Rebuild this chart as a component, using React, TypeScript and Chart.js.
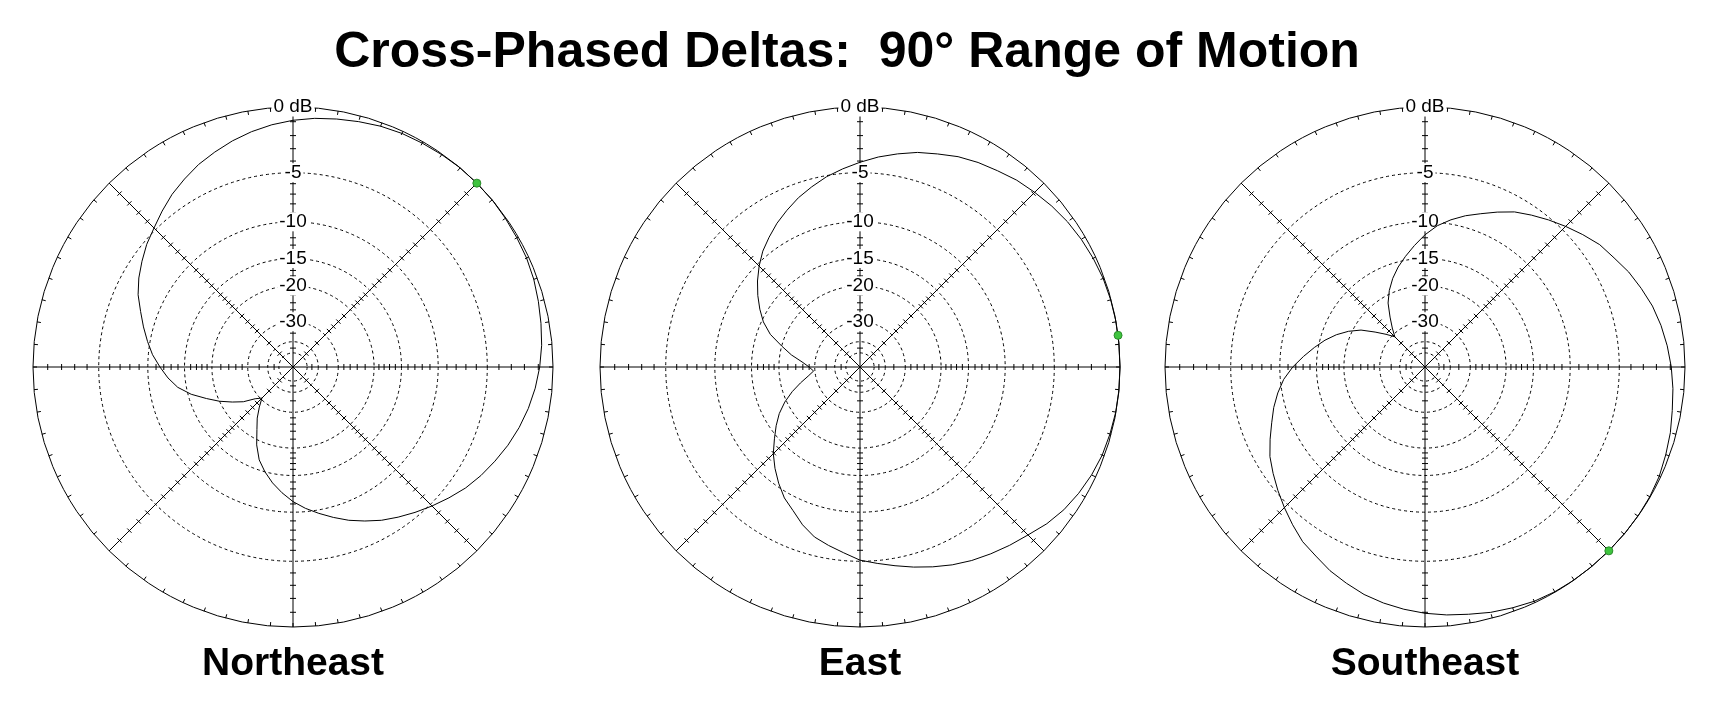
import React, { useEffect, useRef } from 'react';
import { Chart, registerables } from 'chart.js';

Chart.register(...registerables);

const FONT = "'Liberation Sans', Arial, Helvetica, sans-serif";

const chartTitle = 'Cross-Phased Deltas:  90° Range of Motion';

// Compass bearings (degrees clockwise from north) of the pattern samples
const bearings = [
  0, 5, 10, 15, 20, 25, 30, 35, 40, 45, 50, 55, 60, 65, 70, 75, 80, 85,
  90, 95, 100, 105, 110, 115, 120, 125, 130, 135, 140, 145, 150, 155, 160, 165, 170, 175,
  180, 185, 190, 195, 200, 205, 210, 215, 220, 225, 230, 235, 240, 245, 250, 255, 260, 265,
  270, 275, 280, 285, 290, 295, 300, 305, 310, 315, 320, 325, 330, 335, 340, 345, 350, 355,
];

// Ring values (dB) and their labels
const ringDb = [-50, -40, -30, -20, -15, -10, -5, 0];
const ringLabels = ['', '', '-30', '-20', '-15', '-10', '-5', '0 dB'];
// Small tick marks along the axis rays (dB)
const axisTickDb = [-1, -2, -3, -4, -6, -7, -8, -9, -11, -12, -13, -14, -16, -17, -18, -19, -22, -24, -26, -28, -35, -45];

// Relative field strength, dB, at each bearing
const northeastDb = [
  -0.9, -0.7, -0.55, -0.4, -0.25, -0.15, -0.1, -0.05, 0, 0, 0, -0.05, -0.1, -0.15, -0.25, -0.4, -0.55, -0.7,
  -0.9, -1.15, -1.45, -1.8, -2.2, -2.65, -3.1, -3.6, -4.2, -4.8, -5.4, -6.0, -6.6, -7.3, -8.0, -8.8, -9.6, -10.4,
  -11.3, -12.4, -13.6, -15.0, -16.6, -19.0, -22.0, -24.5, -27.5, -30.5, -28.5, -25.0, -22.5, -20.0, -17.8, -15.5, -13.7, -12.5,
  -11.5, -10.5, -9.7, -8.9, -8.1, -7.2, -6.5, -5.9, -5.3, -4.8, -4.2, -3.6, -3.1, -2.6, -2.2, -1.8, -1.45, -1.15,
];
const eastDb = [
  -4.1, -3.6, -3.15, -2.7, -2.35, -1.95, -1.65, -1.4, -1.1, -0.88, -0.65, -0.45, -0.3, -0.18, -0.08, -0.03, 0, 0,
  0, 0, -0.02, -0.08, -0.15, -0.3, -0.5, -0.75, -1.1, -1.55, -1.9, -2.25, -2.6, -3.0, -3.45, -3.9, -4.35, -4.75,
  -5.1, -5.7, -6.2, -6.7, -7.5, -8.5, -9.3, -10.4, -11.6, -12.9, -14.5, -16.0, -17.6, -19.6, -22.0, -24.7, -27.4, -29.5,
  -28.0, -25.7, -22.6, -20.0, -17.2, -15.3, -13.9, -12.6, -11.4, -10.3, -9.3, -8.5, -7.7, -7.0, -6.3, -5.7, -5.1, -4.6,
];
const southeastDb = [
  -11.6, -10.4, -9.5, -8.7, -8.0, -7.2, -6.4, -5.8, -5.2, -4.6, -4.0, -3.4, -3.0, -2.5, -2.1, -1.7, -1.4, -1.15,
  -0.93, -0.75, -0.6, -0.4, -0.25, -0.1, -0.03, 0, 0, 0, 0, 0, -0.03, -0.1, -0.25, -0.4, -0.6, -0.75,
  -0.93, -1.15, -1.4, -1.7, -2.1, -2.5, -3.0, -3.4, -4.0, -4.6, -5.2, -5.8, -6.4, -7.2, -8.0, -8.7, -9.5, -10.4,
  -11.6, -13.0, -14.4, -15.8, -17.4, -19.3, -21.6, -24.9, -28.0, -31.0, -28.0, -24.9, -21.6, -19.3, -17.4, -15.8, -14.4, -13.0,
];

const panelNames = ['Northeast', 'East', 'Southeast'];
const panelSeries = [northeastDb, eastDb, southeastDb];
// Green marker (bearing, dB) for each panel
const markerBearing = [45, 83, 135];
const markerDb = [0, 0, 0];

// ARRL-style log-periodic radial scale: radius shrinks by 0.89 every 2 dB
const dbToR = (db: number) => Math.pow(0.89, -db / 2);

const panelLeft = [11, 578, 1143];

function PolarPanel({ idx }: { idx: number }) {
  const ref = useRef<HTMLCanvasElement | null>(null);
  useEffect(() => {
    const decor = {
      id: 'polarDecor',
      beforeDraw(chart: any) {
        const s = chart.scales.r;
        const ctx = chart.ctx;
        const cx = s.xCenter;
        const cy = s.yCenter;
        const R = s.getDistanceFromCenterForValue(1);
        ctx.save();
        ctx.strokeStyle = '#000';
        ctx.lineWidth = 1;
        ctx.beginPath();
        for (let k = 0; k < 8; k++) {
          const a = (k * Math.PI) / 4 - Math.PI / 2;
          const ux = Math.cos(a);
          const uy = Math.sin(a);
          const px = -uy;
          const py = ux;
          axisTickDb.forEach((db) => {
            const r = s.getDistanceFromCenterForValue(dbToR(db));
            const x = cx + ux * r;
            const y = cy + uy * r;
            ctx.moveTo(x - px * 3, y - py * 3);
            ctx.lineTo(x + px * 3, y + py * 3);
          });
        }
        for (let b = 0; b < 360; b += 5) {
          const a = ((b - 90) * Math.PI) / 180;
          ctx.moveTo(cx + Math.cos(a) * R, cy + Math.sin(a) * R);
          ctx.lineTo(cx + Math.cos(a) * (R - 4), cy + Math.sin(a) * (R - 4));
        }
        ctx.stroke();
        ctx.restore();
      },
      afterDatasetsDraw(chart: any) {
        const s = chart.scales.r;
        const ctx = chart.ctx;
        const r = s.getDistanceFromCenterForValue(dbToR(markerDb[idx]));
        const a = ((markerBearing[idx] - 90) * Math.PI) / 180;
        const x = s.xCenter + Math.cos(a) * r;
        const y = s.yCenter + Math.sin(a) * r;
        ctx.save();
        ctx.beginPath();
        ctx.arc(x, y, 4, 0, Math.PI * 2);
        ctx.fillStyle = '#3fc43f';
        ctx.fill();
        ctx.lineWidth = 1;
        ctx.strokeStyle = '#2a8a2a';
        ctx.stroke();
        ctx.restore();
      },
    };

    const chart = new Chart(ref.current as HTMLCanvasElement, {
      type: 'radar',
      data: {
        labels: bearings.map((b) => String(b)),
        datasets: [
          {
            data: panelSeries[idx].map(dbToR),
            borderColor: '#000',
            borderWidth: 1,
            borderJoinStyle: 'round',
            pointRadius: 0,
            pointHoverRadius: 0,
            fill: false,
            tension: 0,
          },
        ],
      },
      options: {
        responsive: false,
        animation: false,
        events: [],
        layout: { padding: { top: 7, left: 0, right: 0, bottom: 0 } },
        plugins: {
          legend: { display: false },
          tooltip: { enabled: false },
          title: {
            display: true,
            text: panelNames[idx],
            position: 'bottom',
            color: '#000',
            font: { family: FONT, size: 39, weight: 'bold' },
            padding: { top: 4, bottom: 32.2 },
          },
        },
        scales: {
          r: {
            min: 0,
            max: 1,
            startAngle: 0,
            afterBuildTicks: (scale: any) => {
              scale.ticks = [0, ...ringDb.map(dbToR)].map((v) => ({ value: v }));
            },
            ticks: {
              display: true,
              color: '#000',
              font: { family: FONT, size: 19 },
              callback: (_v: any, i: number) => (i === 0 ? '' : ringLabels[i - 1]),
              showLabelBackdrop: (c: any) => !!(c.tick && c.tick.label),
              backdropColor: '#fff',
              backdropPadding: { x: 2, y: 0 },
            },
            grid: { circular: true, color: '#000', lineWidth: 1 },
            border: { dash: (c: any) => (c.index === ringDb.length ? [] : [3, 3]) },
            angleLines: {
              display: true,
              color: (c: any) => (c.index % 9 === 0 ? '#000' : 'rgba(0,0,0,0)'),
              lineWidth: (c: any) => (c.index % 9 === 0 ? 1 : 0),
            },
            pointLabels: { display: false },
          },
        },
      } as any,
      plugins: [decor],
    });
    return () => chart.destroy();
  }, [idx]);
  return (
    <canvas
      ref={ref}
      width={564}
      height={630}
      style={{ position: 'absolute', left: panelLeft[idx], top: 90, width: 564, height: 630 }}
    />
  );
}

export default function App() {
  return (
    <div style={{ position: 'absolute', left: 0, top: 0, width: 1718, height: 720, background: '#fff', overflow: 'hidden' }}>
      <div
        style={{
          position: 'absolute',
          left: 0,
          top: 25,
          width: 1694,
          textAlign: 'center',
          whiteSpace: 'pre',
          fontFamily: FONT,
          fontWeight: 'bold',
          fontSize: 50,
          lineHeight: '50px',
          color: '#000',
        }}
      >
        {chartTitle}
      </div>
      {panelNames.map((_, i) => (
        <PolarPanel key={i} idx={i} />
      ))}
    </div>
  );
}
